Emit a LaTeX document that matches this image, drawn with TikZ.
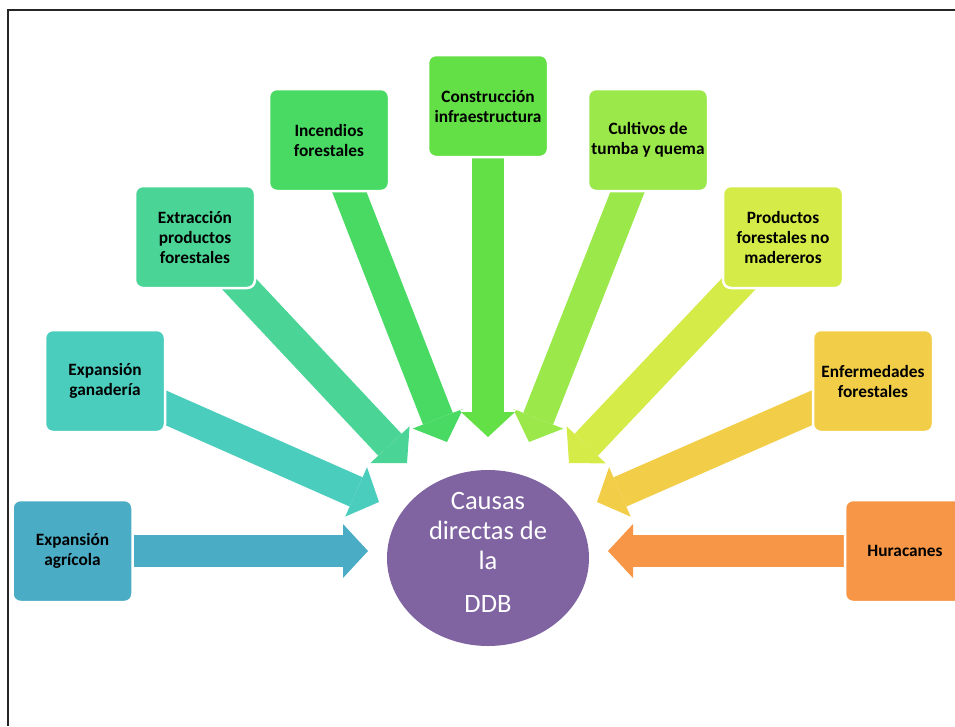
\documentclass[tikz,border=0pt]{standalone}
\usepackage{fontspec}
\setmainfont{Carlito}
\usetikzlibrary{arrows.meta,shapes.geometric,backgrounds}
\definecolor{cagricola}{HTML}{4BACC6}
\definecolor{cganaderia}{HTML}{4BCDBE}
\definecolor{cextraccion}{HTML}{4AD496}
\definecolor{cincendios}{HTML}{48DA63}
\definecolor{cconstruccion}{HTML}{62E046}
\definecolor{ccultivos}{HTML}{9BE84A}
\definecolor{cproductos}{HTML}{D4EB48}
\definecolor{cenfermedades}{HTML}{F2CE48}
\definecolor{churacanes}{HTML}{F79646}
\definecolor{cddb}{HTML}{8064A2}
\tikzset{
  causa/.style={rounded corners=8pt, draw=white, line width=2.5pt, fill=#1,
    minimum width=120pt, minimum height=102pt, inner sep=2pt, align=center,
    font=\fontsize{17.3}{20}\selectfont\bfseries},
  flecha/.style={line width=32pt, draw=#1,
    -{Triangle[length=25pt, width=54pt, line width=0pt]},
    preaction={draw=white, line width=35pt,
      -{Triangle[length=27.5pt, width=58pt, line width=0pt]}}},
}
\begin{document}
\begin{tikzpicture}[x=1pt,y=-1pt]
    \useasboundingbox (0,0) rectangle (955,726);
    \clip (0,0) rectangle (955,726);
    \draw[line width=1.3pt, gray!30!black] (8,726) -- (8,10) -- (955,10);% frame
    % causes
    \node[causa=cagricola] (b1) at (72.5,551) {Expansión\\agrícola};
    \node[causa=cganaderia] (b2) at (105,381) {Expansión\\ganadería};
    \node[causa=cextraccion] (b3) at (195,237) {Extracción\\productos\\forestales};
    \node[causa=cincendios] (b4) at (329,140) {Incendios\\forestales};
    \node[causa=cconstruccion] (b5) at (488,106) {Construcción\\infraestructura};
    \node[causa=ccultivos] (b6) at (648,140) {Cultivos de\\tumba y quema};
    \node[causa=cproductos] (b7) at (783,237) {Productos\\forestales no\\madereros};
    \node[causa=cenfermedades] (b8) at (873,381) {Enfermedades\\forestales};
    \node[causa=churacanes] (b9) at (905,551) {Huracanes};
    % centre
    \node[ellipse, fill=cddb, minimum width=202pt, minimum height=176pt, inner sep=0pt] (ddb) at (488,558) {};
    \node[text=white, align=center, font=\fontsize{26.5}{30}\selectfont] (ddbtext) at ([yshift=6pt]ddb) {Causas\\directas de\\la\\[13pt]DDB};
    % arrow tips
    \coordinate (t1) at (368,551);
    \coordinate (t2) at (379,502);
    \coordinate (t3) at (407,463);
    \coordinate (t4) at (447,442);
    \coordinate (t5) at (488,437);
    \coordinate (t6) at (529,442);
    \coordinate (t7) at (569,463);
    \coordinate (t8) at (597,502);
    \coordinate (t9) at (608,551);
    \begin{pgfonlayer}{background}
      \foreach \i/\c in {1/cagricola,2/cganaderia,3/cextraccion,9/churacanes,8/cenfermedades,
          7/cproductos,4/cincendios,6/ccultivos,5/cconstruccion}{% one arrow per cause
        \draw[flecha=\c] (b\i.center) -- (t\i);}
    \end{pgfonlayer}
\end{tikzpicture}
\end{document}
